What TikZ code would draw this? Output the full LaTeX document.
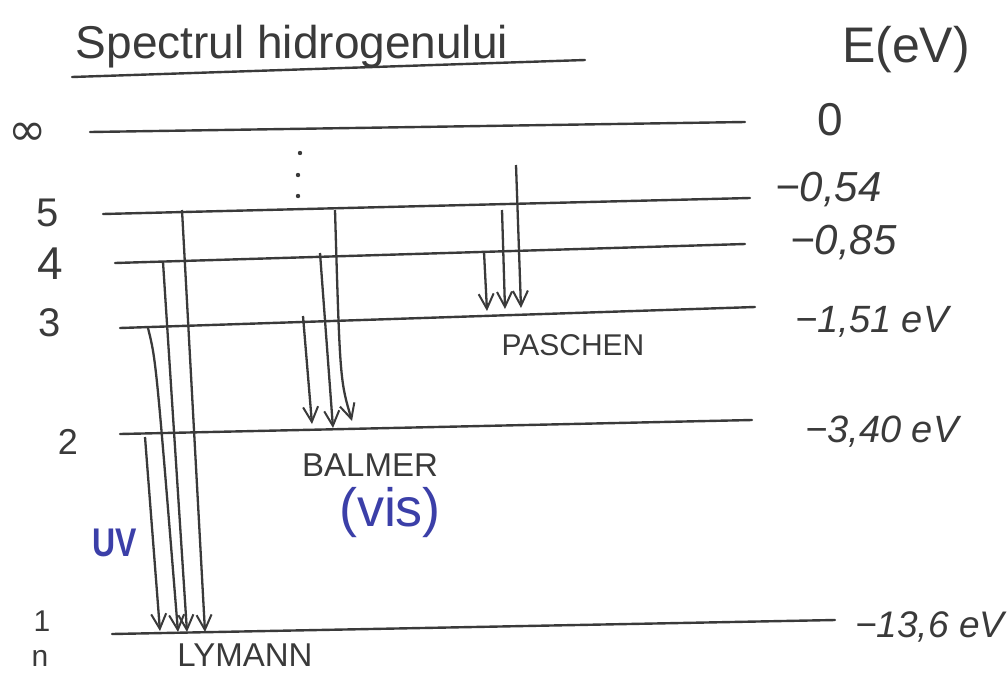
\documentclass[tikz,border=0pt]{standalone}
\usepackage{fontspec}
\setmainfont{Liberation Sans}
\newfontfamily\dejavu{DejaVu Sans}
\usetikzlibrary{arrows.meta}
\definecolor{ink}{HTML}{3A3A3A}
\definecolor{blueink}{HTML}{3B3FA8}
\tikzset{
  level/.style={draw=ink, line width=2.4pt, line cap=round},
  trans/.style={draw=ink, line width=2.3pt, -{Straight Barb[length=15pt,width=15pt,line width=2pt]}},
  lbl/.style={text=ink, inner sep=0pt, font=\fontsize{40}{44}\selectfont},
  val/.style={text=ink, inner sep=0pt, anchor=west, font=\fontsize{38}{42}\selectfont\itshape},
  series/.style={text=ink, inner sep=0pt, font=\fontsize{30}{34}\selectfont},
  bluelbl/.style={text=blueink, inner sep=0pt},
}
\begin{document}
\begin{tikzpicture}[x=1pt,y=-1pt]
\useasboundingbox (0,0) rectangle (1008,675);
% title
\node[text=ink, inner sep=0pt, font=\fontsize{46}{52}\selectfont] (title) at (292,47) {Spectrul hidrogenului};
\coordinate (ul1) at (72,77);
\coordinate (ul2) at (585,60);
\draw[level] (ul1) -- (ul2);
\node[text=ink, inner sep=0pt, font=\fontsize{50}{56}\selectfont] (E) at (906,50) {E(eV)};
% levels
\coordinate (Linf-a) at (90,132);  \coordinate (Linf-b) at (745,122);
\coordinate (L5-a) at (103,214);   \coordinate (L5-b) at (750,198);
\coordinate (L4-a) at (115,263);   \coordinate (L4-b) at (745,244);
\coordinate (L3-a) at (120,328);   \coordinate (L3-b) at (755,307);
\coordinate (L2-a) at (120,434);   \coordinate (L2-b) at (752,420);
\coordinate (L1-a) at (112,634);   \coordinate (L1-b) at (835,620);
\foreach \l in {inf,5,4,3,2,1} \draw[level] (L\l-a) -- (L\l-b);
% level numbers
\node[lbl, font=\fontsize{46}{50}\selectfont\dejavu] (ninf) at (28,134) {∞};
\node[lbl] (n5) at (48,213) {5};
\node[lbl, font=\fontsize{46}{50}\selectfont] (n4) at (50,264) {4};
\node[lbl] (n3) at (50,323) {3};
\node[lbl, font=\fontsize{36}{40}\selectfont] (n2) at (68,442) {2};
\node[lbl, font=\fontsize{30}{34}\selectfont] (n1) at (42,621) {1};
\node[lbl, font=\fontsize{30}{34}\selectfont] (nn) at (40,658) {n};
% energies
\node[text=ink, inner sep=0pt, font=\fontsize{46}{50}\selectfont] (e0) at (830,120) {0};
\node[val, font=\fontsize{42}{46}\selectfont\itshape] (e5) at (775,190) {−0,54};
\node[val, font=\fontsize{42}{46}\selectfont\itshape] (e4) at (790,243) {−0,85};
\node[val] (e3) at (795,322) {−1,51 eV};
\node[val] (e2) at (805,432) {−3,40 eV};
\node[val, font=\fontsize{37}{41}\selectfont\itshape] (e1) at (855,627) {−13,6 eV};
% dots
\fill[ink] (300,153) circle (2.2pt);
\fill[ink] (298,175) circle (2.2pt);
\fill[ink] (298,196) circle (2.2pt);
% Lyman
\coordinate (ly2s) at (145,437); \coordinate (ly2e) at (160,631);
\coordinate (ly3s) at (148,328); \coordinate (ly3e) at (178,632);
\coordinate (ly4s) at (163,262); \coordinate (ly4e) at (187,632);
\coordinate (ly5s) at (182,210); \coordinate (ly5e) at (205,632);
\draw[trans] (ly2s) -- (ly2e);
\draw[trans] (ly3s) .. controls (156,360) .. (ly3e);
\draw[trans] (ly4s) -- (ly4e);
\draw[trans] (ly5s) -- (ly5e);
% Balmer
\coordinate (ba3s) at (303,316); \coordinate (ba3e) at (312,424);
\coordinate (ba4s) at (320,253); \coordinate (ba4e) at (333,428);
\coordinate (ba5s) at (335,210); \coordinate (ba5e) at (352,421);
\draw[trans] (ba3s) -- (ba3e);
\draw[trans] (ba4s) -- (ba4e);
\draw[trans] (ba5s) .. controls (340,380) .. (ba5e);
% Paschen
\coordinate (pa4s) at (484,252); \coordinate (pa4e) at (487,311);
\coordinate (pa5s) at (502,210); \coordinate (pa5e) at (505,309);
\coordinate (pais) at (516,165); \coordinate (paie) at (521,308);
\draw[trans] (pa4s) -- (pa4e);
\draw[trans] (pa5s) -- (pa5e);
\draw[trans] (pais) -- (paie);
% series labels
\node[series] (paschen) at (573,345) {PASCHEN};
\node[series, font=\fontsize{33}{37}\selectfont] (balmer) at (370,465) {BALMER};
\node[bluelbl, font=\fontsize{54}{58}\selectfont] (vis) at (390,513) {(vis)};
\node[bluelbl, font=\fontsize{40}{44}\selectfont\bfseries, xscale=0.8] (uv) at (115,543) {UV};
\node[series, font=\fontsize{33}{37}\selectfont] (lyman) at (245,655) {LYMANN};
\end{tikzpicture}
\end{document}
